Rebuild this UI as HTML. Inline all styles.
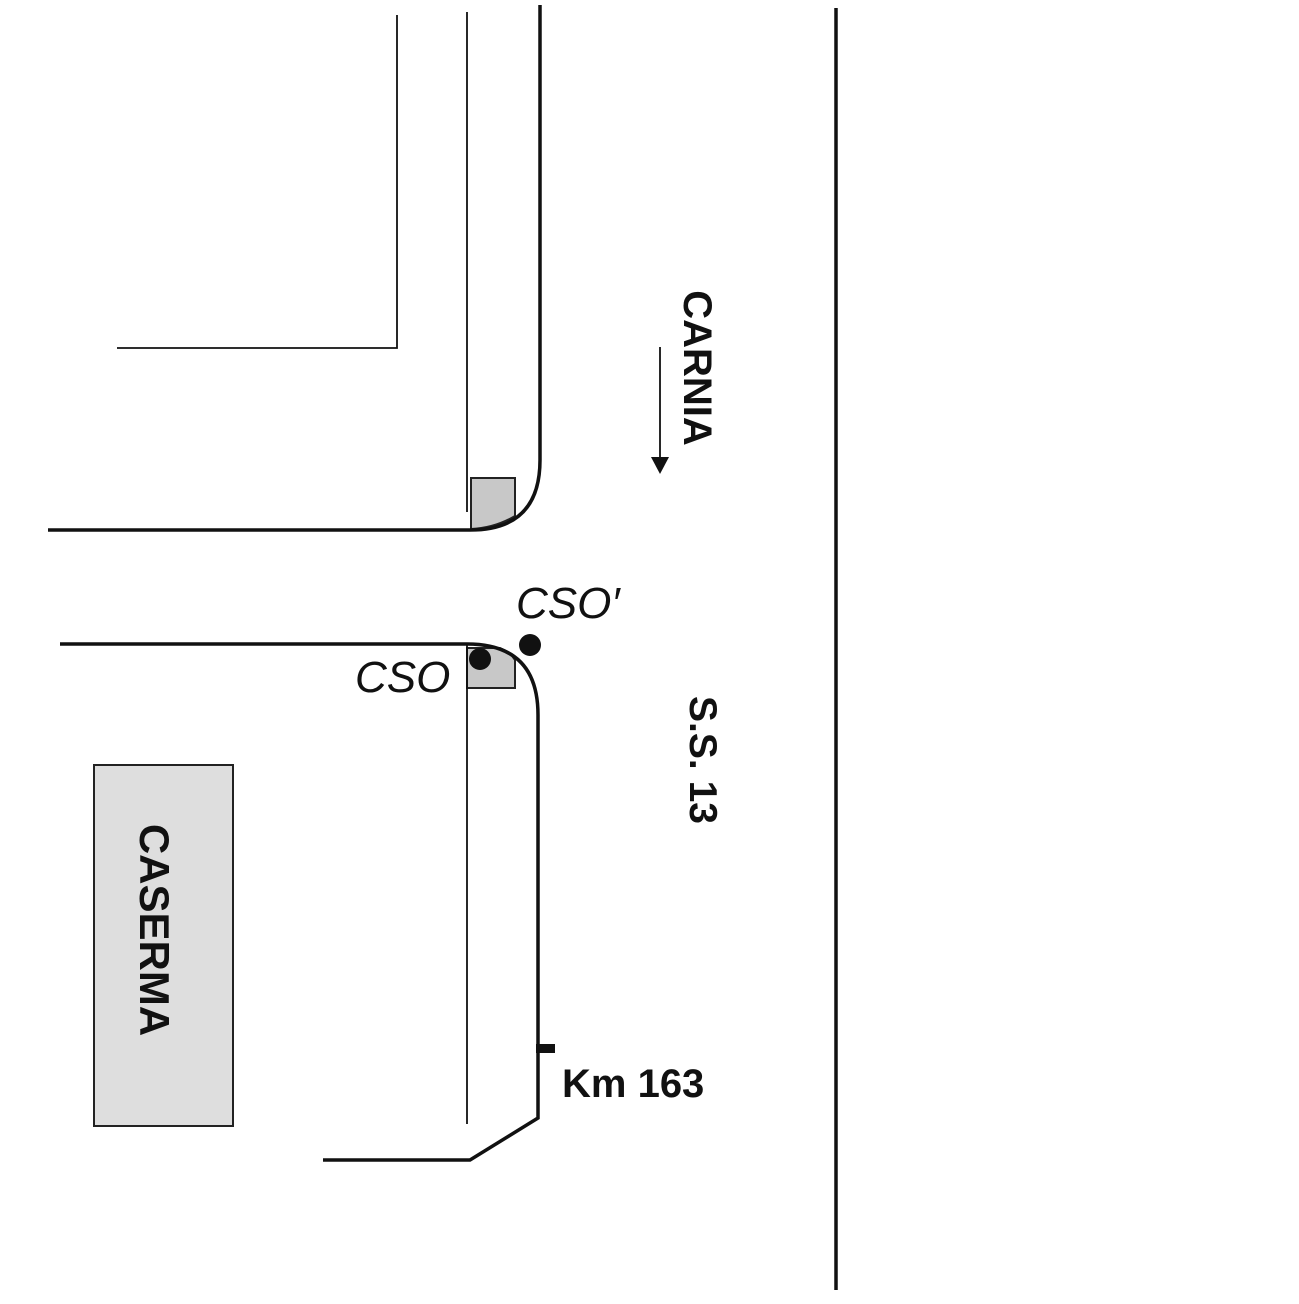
<!DOCTYPE html>
<html><head><style>body{margin:0;background:#fff}</style></head><body>
<svg width="1299" height="1299" viewBox="0 0 1299 1299" xmlns="http://www.w3.org/2000/svg">
<rect width="1299" height="1299" fill="#fff"/>
<rect x="94" y="765" width="139" height="361" fill="#dedede" stroke="#222" stroke-width="2"/>
<path d="M471 478 H515 V516 Q495 528 471 529 Z" fill="#c8c8c8" stroke="#222" stroke-width="2"/>
<path d="M467 648 H500 Q510 652 515 660 V688 H467 Z" fill="#c8c8c8" stroke="#222" stroke-width="2"/>
<g fill="none" stroke="#111">
<path d="M540 5 V460 Q540 530 470 530 H48" stroke-width="3.5"/>
<path d="M467 12 V512" stroke-width="1.8"/>
<path d="M397 15 V348 H117" stroke-width="1.8"/>
<path d="M60 644 H467 Q538 644 538 715 V1118 L470 1160 H323" stroke-width="3.5"/>
<path d="M467 644 V1124" stroke-width="1.8"/>
<path d="M836 8 V1290" stroke-width="3.5"/>
<path d="M660 347 V460" stroke-width="1.8"/>
</g>
<polygon points="651,457 669,457 660,474" fill="#111"/>
<rect x="536" y="1044" width="19" height="9" fill="#111"/>
<circle cx="480" cy="659" r="11" fill="#111"/>
<circle cx="530" cy="645" r="11" fill="#111"/>
<g font-family="Liberation Sans, sans-serif" fill="#111">
<text x="355" y="692" font-size="44" font-style="italic">CSO</text>
<text x="516" y="618" font-size="44" font-style="italic">CSO′</text>
<text x="562" y="1097" font-size="40" font-weight="bold">Km 163</text>
<text transform="translate(684,368) rotate(90)" font-size="40" font-weight="bold" text-anchor="middle">CARNIA</text>
<text transform="translate(690,760) rotate(90)" font-size="39" font-weight="bold" text-anchor="middle">S.S. 13</text>
<text transform="translate(140,930) rotate(90)" font-size="42" font-weight="bold" text-anchor="middle">CASERMA</text>
</g>
</svg>
</body></html>
